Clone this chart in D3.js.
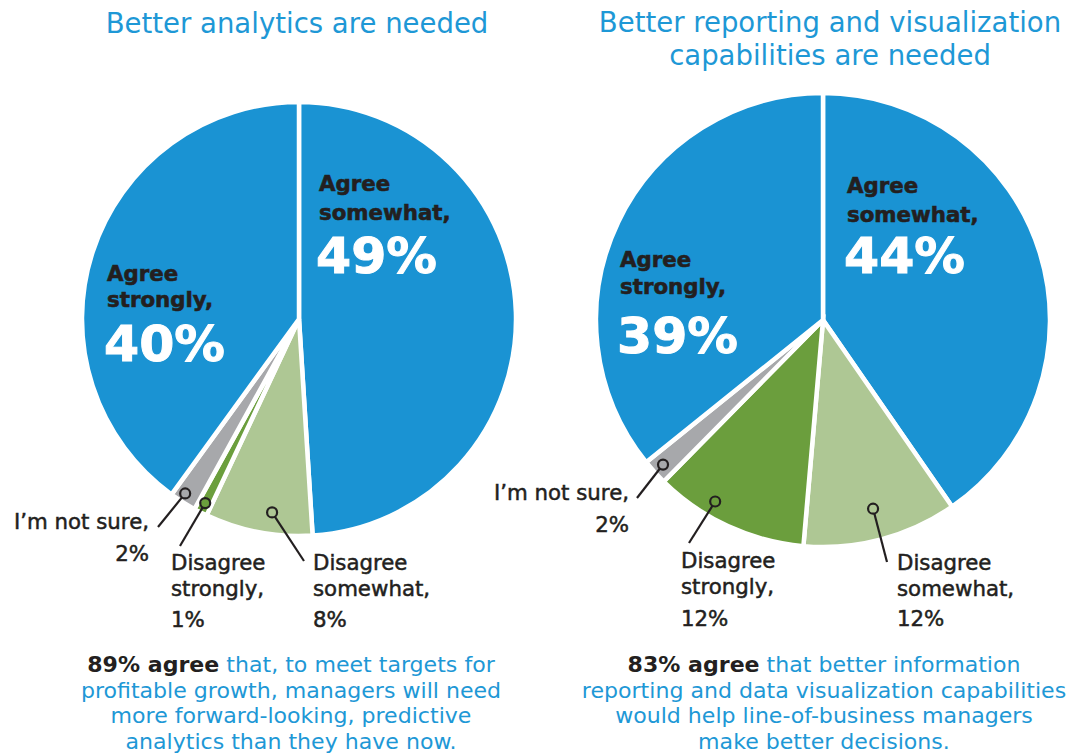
<!DOCTYPE html>
<html><head><meta charset="utf-8">
<script src="https://cdn.jsdelivr.net/npm/d3@7"></script>
<style>
body{margin:0;background:#fff;}
text{font-family:"DejaVu Sans",sans-serif;}
text.heavy{font-weight:bold;}
</style></head>
<body><svg id="c" width="1086" height="753"></svg>
<script>
// ---- data ----
const categories = ["Agree somewhat", "Disagree somewhat", "Disagree strongly", "I\u2019m not sure", "Agree strongly"];
const analyticsValues = [49, 8, 1, 2, 40];
const reportingValues = [44, 12, 12, 2, 39];
const titles = [["Better analytics are needed"], ["Better reporting and visualization", "capabilities are needed"]];
const notes = [
  ["89% agree", " that, to meet targets for", "profitable growth, managers will need", "more forward-looking, predictive", "analytics than they have now."],
  ["83% agree", " that better information", "reporting and data visualization capabilities", "would help line-of-business managers", "make better decisions."]
];

const colors = d3.scaleOrdinal().domain(categories)
  .range(["#1a93d3", "#aec794", "#6b9e3d", "#a7a8ab", "#1a93d3"]);
const dark = "#231f20", blue = "#1e98d6";

const svg = d3.select("#c");

// font size that makes a sample string a given width
function fit(str, target, weight) {
  const t = svg.append("text").attr("font-size", 100).attr("font-weight", weight || "normal").text(str);
  const w = t.node().getComputedTextLength();
  t.remove();
  return 100 * target / w;
}
const titleSize = (fit(titles[0][0], 380) + fit(titles[1][0], 466)) / 2;
const noteSize = (fit(notes[0][2], 422) + fit(notes[1][2], 483)) / 2;
const outerSize = fit("I\u2019m not sure,", 135);
const innerSize = (fit("somewhat,", 132, "bold") + fit("strongly,", 106, "bold")) / 2;
const pctSize = fit("49%", 121, "bold");

const charts = [
  {values: analyticsValues, cx: 299, cy: 319, r: 217, titleX: 297, titleY: [33], noteX: 291,
   inner: {0: {x: 319, y: 191, gap: 29, py: 273}, 4: {x: 107, y: 281, gap: 26, py: 361}},
   outer: {
     3: {t: 0.6, rr: 0.96, end: [-141, 208], lines: [["I\u2019m not sure,", 529], ["2%", 561]], tx: 149, anchor: "end"},
     2: {t: 0.5, rr: 0.952, end: [-119, 227], lines: [["Disagree", 570], ["strongly,", 596], ["1%", 627]], tx: 171, anchor: "start"},
     1: {t: 0.4, rr: 0.9, end: [5, 242], lines: [["Disagree", 570], ["somewhat,", 596], ["8%", 627]], tx: 313, anchor: "start"}
   }},
  {values: reportingValues, cx: 823, cy: 320, r: 227, titleX: 830, titleY: [32, 65], noteX: 824,
   inner: {0: {x: 847, y: 193, gap: 29, py: 273}, 4: {x: 620, y: 267, gap: 27, py: 353}},
   outer: {
     3: {t: 0.5, rr: 0.95, end: [-186, 178], lines: [["I\u2019m not sure,", 500], ["2%", 532]], tx: 629, anchor: "end"},
     2: {t: 0.65, rr: 0.93, end: [-134, 223], lines: [["Disagree", 568], ["strongly,", 594], ["12%", 626]], tx: 681, anchor: "start"},
     1: {t: 0.5, rr: 0.86, end: [64, 242], lines: [["Disagree", 570], ["somewhat,", 596], ["12%", 626]], tx: 897, anchor: "start"}
   }}
];

const pie = d3.pie().sort(null).value(d => d);

charts.forEach((ch, ci) => {
  const arcs = pie(ch.values);
  const g = svg.append("g").attr("transform", `translate(${ch.cx},${ch.cy})`);
  const arc = d3.arc().innerRadius(0).outerRadius(ch.r);
  g.selectAll("path.slice").data(arcs).enter().append("path")
    .attr("class", "slice")
    .attr("d", arc)
    .attr("fill", (d, i) => colors(categories[i]))
    .attr("stroke", "#fff").attr("stroke-width", 4.5).attr("stroke-linejoin", "miter");

  // titles
  ch.titleY.forEach((y, k) => {
    svg.append("text").attr("x", ch.titleX).attr("y", y).attr("text-anchor", "middle")
      .attr("fill", blue).attr("font-size", titleSize).text(titles[ci][k]);
  });

  // inner labels
  Object.entries(ch.inner).forEach(([idx, p]) => {
    const name = categories[idx].split(" ");
    const t = svg.append("text").attr("class", "heavy").attr("fill", dark).attr("font-size", innerSize)
      .attr("stroke", dark).attr("stroke-width", 0.6);
    t.append("tspan").attr("x", p.x).attr("y", p.y).text(name[0]);
    t.append("tspan").attr("x", p.x).attr("y", p.y + p.gap).text(name[1] + ",");
    svg.append("text").attr("class", "heavy").attr("x", p.x - 3).attr("y", p.py).attr("fill", "#fff")
      .attr("stroke", "#fff").attr("stroke-width", 1)
      .attr("font-size", pctSize).text(ch.values[idx] + "%");
  });

  // outer labels with leaders
  Object.entries(ch.outer).forEach(([idx, o]) => {
    const a = arcs[idx];
    const ang = a.startAngle + o.t * (a.endAngle - a.startAngle);
    const rr = o.rr * ch.r;
    const px = rr * Math.sin(ang), py = -rr * Math.cos(ang);
    const dx = o.end[0] - px, dy = o.end[1] - py, len = Math.hypot(dx, dy);
    const cr = 5;
    g.append("line").attr("x1", px + dx / len * cr).attr("y1", py + dy / len * cr)
      .attr("x2", o.end[0]).attr("y2", o.end[1])
      .attr("stroke", dark).attr("stroke-width", 2.2);
    g.append("circle").attr("cx", px).attr("cy", py).attr("r", cr)
      .attr("fill", "none").attr("stroke", dark).attr("stroke-width", 2.2);
    o.lines.forEach(([txt, y]) => {
      svg.append("text").attr("x", o.tx).attr("y", y).attr("text-anchor", o.anchor)
        .attr("fill", dark).attr("font-size", outerSize)
        .attr("stroke", dark).attr("stroke-width", 0.5)
        .text(txt);
    });
  });

  // notes
  const nb = [672, 697.5, 723, 748.5];
  const nt = notes[ci];
  const t0 = svg.append("text").attr("x", ch.noteX).attr("y", nb[0]).attr("text-anchor", "middle").attr("font-size", noteSize);
  t0.append("tspan").attr("fill", dark).attr("font-weight", "bold").text(nt[0]);
  t0.append("tspan").attr("fill", blue).text(nt[1]);
  for (let k = 2; k < nt.length; k++) {
    svg.append("text").attr("x", ch.noteX).attr("y", nb[k - 1]).attr("text-anchor", "middle")
      .attr("font-size", noteSize).attr("fill", blue).text(nt[k]);
  }
});
</script></body></html>
